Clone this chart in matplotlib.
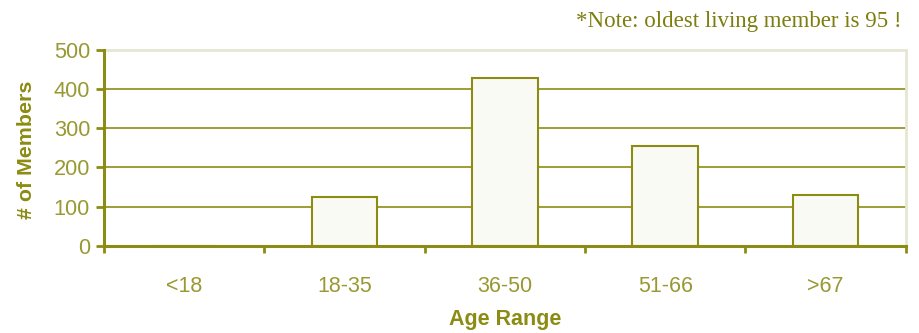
import matplotlib
matplotlib.use("Agg")
import matplotlib.pyplot as plt
import numpy as np

categories = ["<18", "18-35", "36-50", "51-66", ">67"]
members = [0, 125, 428, 255, 130]
yticks = [0, 100, 200, 300, 400, 500]
note = "*Note: oldest living member is 95 !"

olive = "#8c8c14"
olive_text = "#999933"
light = "#e6e6d2"

fig = plt.figure(figsize=(9.19, 3.33), dpi=100)
ax = fig.add_axes([104/919, 1-245.7/333, (905.7-104)/919, (245.7-50)/333])

x = np.arange(len(categories))
ax.bar(x, members, width=0.41, color="#fafaf5", edgecolor=olive, linewidth=1.5, zorder=3)

ax.set_xlim(-0.5, len(categories)-0.5)
ax.set_ylim(0, 500)
ax.set_yticks(yticks)
ax.set_yticklabels([str(v) for v in yticks], fontsize=15.7, color=olive_text, family="Liberation Sans")
for v in yticks[1:-1]:
    ax.axhline(v, color=olive, linewidth=1.2, zorder=1)

ax.set_xticks(np.arange(-0.5, len(categories)), minor=False)
ax.set_xticklabels([])
ax.set_xticks(x, minor=True)
ax.set_xticklabels(categories, minor=True, fontsize=15.5, color=olive_text, family="Liberation Sans")
ax.tick_params(axis="x", which="minor", length=0, pad=22)
ax.tick_params(axis="x", which="major", length=5, width=2, color=olive, direction="out")
ax.tick_params(axis="y", length=6, width=2, color=olive, direction="out", pad=4)

for s in ["left", "bottom"]:
    ax.spines[s].set_color(olive)
    ax.spines[s].set_linewidth(2.2)
for s in ["top", "right"]:
    ax.spines[s].set_color(light)
    ax.spines[s].set_linewidth(2)
ax.spines["left"].set_zorder(4)
ax.spines["bottom"].set_zorder(4)

fig.text(505/919, 1-320/333, "Age Range", ha="center", va="center", fontsize=15.5,
         fontweight="bold", color=olive, family="Liberation Sans")
fig.text(27/919, 1-150/333, "# of Members", ha="center", va="center", rotation=90,
         fontsize=15.4, fontweight="bold", color=olive, family="Liberation Sans")
fig.text(902/919, 1-22/333, note, ha="right", va="center", fontsize=16.5,
         color="#7d7d10", family="Liberation Serif")

fig.savefig("out.png", dpi=100)
